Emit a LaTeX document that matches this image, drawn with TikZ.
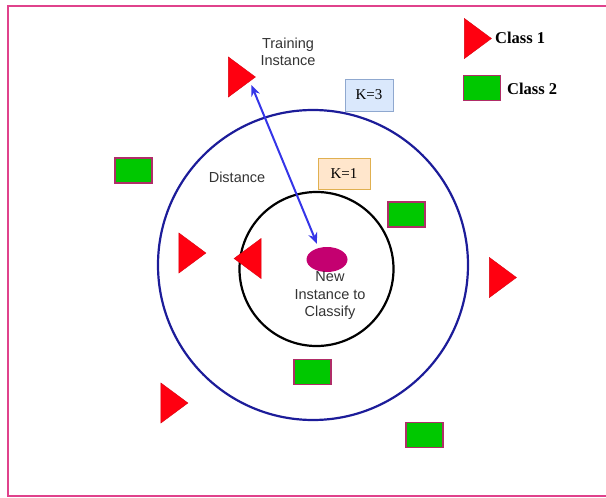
\documentclass[tikz,border=0pt]{standalone}
\usepackage{fontspec}
\setmainfont{Liberation Serif}
\setsansfont{Liberation Sans}
\usetikzlibrary{shapes.geometric,arrows.meta}
\definecolor{framepink}{HTML}{E0428C}
\definecolor{navyc}{HTML}{1C1C99}
\definecolor{arrowblue}{HTML}{3535E8}
\definecolor{trired}{HTML}{FF0010}
\definecolor{rectgreen}{HTML}{00C800}
\definecolor{rectborder}{HTML}{B02D68}
\definecolor{newinst}{HTML}{C40070}
\definecolor{kthreefill}{HTML}{DAE8FC}
\definecolor{kthreedraw}{HTML}{8FA8CF}
\definecolor{konefill}{HTML}{FFE6CC}
\definecolor{konedraw}{HTML}{E0B050}
\definecolor{txtgrey}{HTML}{333333}
\begin{document}
\begin{tikzpicture}[x=1pt,y=-1pt,
  tri/.style={isosceles triangle, isosceles triangle stretches, fill=trired, draw=trired!85!black, line width=0.4pt, inner sep=0pt, outer sep=0pt, minimum height=27pt, minimum width=40pt},
  greenbox/.style={rectangle, fill=rectgreen, draw=rectborder, line width=1.6pt, inner sep=0pt, outer sep=0pt, minimum width=37pt, minimum height=25pt},
  ring/.style={circle, inner sep=0pt, line width=2.2pt},
  sanslabel/.style={font=\sffamily\fontsize{14.5}{17.5}\selectfont, text=txtgrey, align=center, inner sep=0pt},
  legendlabel/.style={font=\bfseries\fontsize{16.5}{19}\selectfont, anchor=west, inner sep=0pt},
  kbox/.style={rectangle, inner sep=0pt, line width=0.9pt, font=\fontsize{15}{17}\selectfont}
]
\useasboundingbox (0,0) rectangle (606,498);
% frame
\draw[framepink, line width=2.4pt] (8,6) rectangle (612,496);

% circles
\node[ring, draw=navyc, minimum size=310pt] (outer) at (313,265) {};
\node[ring, draw=black, minimum size=154pt] (inner) at (316.5,269) {};

% new instance
\node[ellipse, fill=newinst, inner sep=0pt, minimum width=41pt, minimum height=25pt] (new) at (327,259.5) {};
\node[sanslabel] (newlabel) at (330,296) {New\\Instance to\\Classify};

% triangles (class 1)
\node[tri] (train) at (238.5,77) {};
\node[tri] (t2) at (189,253) {};
\node[tri, shape border rotate=180] (t3) at (251,258.5) {};
\node[tri] (t4) at (499.5,277.5) {};
\node[tri] (t5) at (171,403) {};
\node[tri] (leg1) at (474.5,38.5) {};

% rectangles (class 2)
\node[greenbox] (leg2) at (482,88) {};
\node[greenbox] (r1) at (133.5,170.5) {};
\node[greenbox] (r2) at (406.5,214.5) {};
\node[greenbox] (r3) at (312.5,372) {};
\node[greenbox] (r4) at (424.5,435) {};

% K boxes
\node[kbox, fill=kthreefill, draw=kthreedraw, minimum width=48pt, minimum height=32pt] (k3) at (369,95) {K=3};
\node[kbox, fill=konefill, draw=konedraw, minimum width=52pt, minimum height=31pt] (k1) at (344,173.5) {K=1};

% labels
\node[sanslabel] (trainlabel) at (288,52) {Training\\Instance};
\node[sanslabel] (distlabel) at (237,177) {Distance};
\node[legendlabel] (c1) at (495,38) {Class 1};
\node[legendlabel] (c2) at (507,89) {Class 2};

% distance arrow
\draw[arrowblue, line width=2pt, {Stealth[length=11pt,width=9pt]}-{Stealth[length=11pt,width=9pt]}]
  ([shift={(-4,8)}]train.apex) -- ([shift={(-10,-3)}]new.north);
\end{tikzpicture}
\end{document}
